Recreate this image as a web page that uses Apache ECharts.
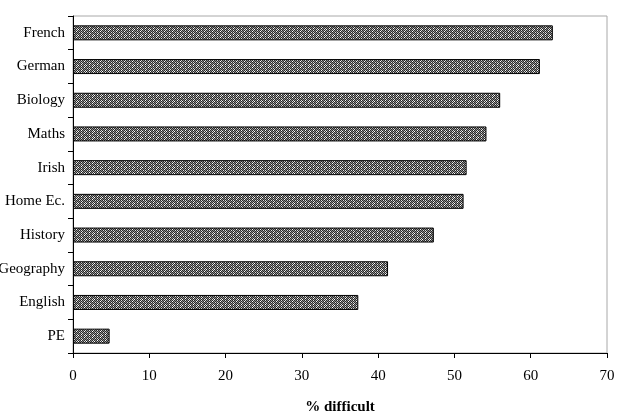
<!DOCTYPE html>
<html><head><meta charset="utf-8">
<script src="https://cdn.jsdelivr.net/npm/echarts@6/dist/echarts.min.js"></script>
<style>html,body{margin:0;padding:0;background:#fff}#c{width:622px;height:420px}</style>
</head><body><div id="c"></div>
<script>
const categories = ["PE","English","Geography","History","Home Ec.","Irish","Maths","Biology","German","French"];
const values = [4.8, 37.4, 41.3, 47.3, 51.2, 51.6, 54.2, 56.0, 61.2, 62.9];
const xTicks = [0,10,20,30,40,50,60,70];
const xTitle = "% difficult";

function makePattern(){
  const c = document.createElement('canvas');
  c.width = 8; c.height = 6;
  const g = c.getContext('2d');
  const img = g.createImageData(8,6);
  const rows = [
    "kwkgkwkg",
    "gkgkWkgk",
    "kwkgkgkw",
    "gkwkgkgk",
    "kWkgkwkg",
    "gkgkwkWk"
  ];
  const col = {k:[40,40,40], w:[220,220,220], g:[140,140,140], W:[255,255,255]};
  for(let y=0;y<6;y++)for(let x=0;x<8;x++){
    const v = col[rows[y][x]]; const i=(y*8+x)*4;
    img.data[i]=v[0];img.data[i+1]=v[1];img.data[i+2]=v[2];img.data[i+3]=255;
  }
  g.putImageData(img,0,0);
  return c;
}

const chart = echarts.init(document.getElementById('c'), null, {renderer:'canvas'});
const font = 'Liberation Serif';
chart.setOption({
  animation:false,
  grid:{left:73,right:15,top:16,bottom:67,containLabel:false,outerBoundsMode:'none',show:true,borderColor:'#a8a8a8',borderWidth:1,backgroundColor:'#fff'},
  xAxis:{type:'value',min:xTicks[0],max:xTicks[xTicks.length-1],interval:10,
    axisLine:{show:true,lineStyle:{color:'#000',width:1}},
    axisTick:{show:true,length:5,lineStyle:{color:'#000'}},
    splitLine:{show:false},
    axisLabel:{color:'#000',fontFamily:font,fontSize:15,margin:16},
    name:xTitle,nameLocation:'middle',nameGap:47,
    nameTextStyle:{color:'#000',fontFamily:font,fontSize:15,fontWeight:'bold'}},
  yAxis:{type:'category',data:categories,
    axisLine:{show:true,lineStyle:{color:'#000',width:1}},
    axisTick:{show:true,length:5,lineStyle:{color:'#000'}},
    axisLabel:{color:'#000',fontFamily:font,fontSize:15,margin:8}},
  series:[{type:'bar',data:values,barWidth:15,
    itemStyle:{color:{image:makePattern(),repeat:'repeat'},borderColor:'#000',borderWidth:1}}]
});
</script></body></html>
